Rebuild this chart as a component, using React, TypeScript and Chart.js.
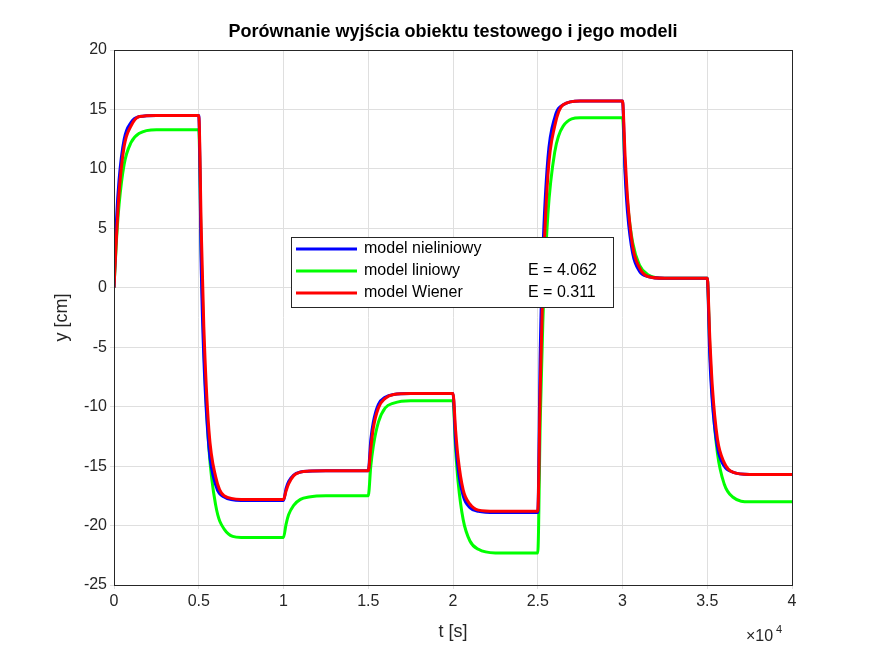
import { useRef, useEffect } from 'react';
import { Chart, registerables } from 'chart.js';

Chart.register(...registerables);

// sample times (s): each 5000 s step, samples after the step
const times = [
  0, 150, 300, 600, 1000, 1500, 2500, 4990,
  5000, 5150, 5300, 5600, 6000, 6500, 7500, 9990,
  10000, 10150, 10300, 10600, 11000, 11500, 12500, 14990,
  15000, 15150, 15300, 15600, 16000, 16500, 17500, 19990,
  20000, 20150, 20300, 20600, 21000, 21500, 22500, 24990,
  25000, 25150, 25300, 25600, 26000, 26500, 27500, 29990,
  30000, 30150, 30300, 30600, 31000, 31500, 32500, 34990,
  35000, 35150, 35300, 35600, 36000, 36500, 37500, 40000,
];

const nonlinear = [
  0, 5.8, 9.1, 12.5, 13.9, 14.4, 14.5, 14.5,
  14.5, 1.5, -5.9, -13.4, -16.6, -17.6, -17.9, -17.9,
  -17.9, -16.9, -16.3, -15.75, -15.5, -15.43, -15.4, -15.4,
  -15.4, -12.8, -11.3, -9.8, -9.2, -8.97, -8.9, -8.9,
  -8.9, -12.9, -15.2, -17.5, -18.5, -18.8, -18.9, -18.9,
  -18.9, -5.1, 2.9, 10.9, 14.3, 15.4, 15.7, 15.7,
  15.7, 9.7, 6.3, 2.9, 1.4, 0.95, 0.8, 0.8,
  0.8, -5.8, -9.6, -13.4, -15.0, -15.5, -15.7, -15.7,
];

const linear = [
  0, 4.1, 7.0, 10.4, 12.2, 13.0, 13.3, 13.3,
  13.3, 2.7, -4.9, -13.5, -18.3, -20.3, -21, -21,
  -21, -19.9, -19.1, -18.3, -17.8, -17.6, -17.5, -17.5,
  -17.5, -15.0, -13.3, -11.3, -10.1, -9.7, -9.5, -9.5,
  -9.5, -13.5, -16.3, -19.5, -21.3, -22.0, -22.3, -22.3,
  -22.3, -11.0, -2.9, 6.2, 11.4, 13.6, 14.3, 14.3,
  14.3, 10.1, 7.1, 3.8, 1.9, 1.1, 0.8, 0.8,
  0.8, -5.0, -9.2, -13.9, -16.5, -17.6, -18, -18,
];

const wiener = [
  0, 4.4, 8.0, 11.9, 13.6, 14.4, 14.5, 14.5,
  14.5, 4.8, -3.3, -12.0, -15.9, -17.5, -17.8, -17.8,
  -17.8, -17.1, -16.5, -15.8, -15.5, -15.42, -15.4, -15.4,
  -15.4, -13.5, -11.8, -10.1, -9.3, -8.97, -8.9, -8.9,
  -8.9, -11.9, -14.3, -17.0, -18.2, -18.7, -18.8, -18.8,
  -18.8, -8.4, 0.2, 9.5, 13.6, 15.4, 15.7, 15.7,
  15.7, 11.2, 7.5, 3.5, 1.7, 0.95, 0.8, 0.8,
  0.8, -4.2, -8.3, -12.7, -14.7, -15.5, -15.7, -15.7,
];

const legendItems = [
  { label: 'model nieliniowy', err: '', color: '#0000ff' },
  { label: 'model liniowy', err: 'E = 4.062', color: '#00ff00' },
  { label: 'model Wiener', err: 'E = 0.311', color: '#ff0000' },
];

const FONT = '"Liberation Sans", Arial, sans-serif';

const toPts = (ys: number[]) => ys.map((y, i) => ({ x: times[i], y }));

const decor = {
  id: 'decor',
  afterDraw(chart: Chart) {
    const { ctx, chartArea: a } = chart;
    ctx.save();
    ctx.strokeStyle = '#262626';
    ctx.lineWidth = 1;
    ctx.strokeRect(a.left + 0.5, a.top + 0.5, a.right - a.left, a.bottom - a.top);

    ctx.fillStyle = '#000';
    ctx.textAlign = 'center';
    ctx.textBaseline = 'middle';
    ctx.font = `bold 18px ${FONT}`;
    ctx.fillText('Porównanie wyjścia obiektu testowego i jego modeli', (a.left + a.right) / 2, 32);

    ctx.fillStyle = '#262626';
    ctx.font = `18px ${FONT}`;
    ctx.fillText('t [s]', (a.left + a.right) / 2, 632);
    ctx.save();
    ctx.translate(62, (a.top + a.bottom) / 2);
    ctx.rotate(-Math.PI / 2);
    ctx.fillText('y [cm]', 0, 0);
    ctx.restore();

    ctx.textAlign = 'left';
    ctx.font = `16px ${FONT}`;
    ctx.fillText('×10', 746, 637);
    ctx.font = `11px ${FONT}`;
    ctx.fillText('4', 776, 630);

    // legend
    const lx = 291, ly = 237, lw = 322, lh = 70;
    ctx.fillStyle = '#fff';
    ctx.fillRect(lx, ly, lw, lh);
    ctx.strokeStyle = '#262626';
    ctx.lineWidth = 1;
    ctx.strokeRect(lx + 0.5, ly + 0.5, lw, lh);
    ctx.font = `16px ${FONT}`;
    legendItems.forEach((it, i) => {
      const y = ly + 12 + i * 22;
      ctx.strokeStyle = it.color;
      ctx.lineWidth = 3;
      ctx.beginPath();
      ctx.moveTo(lx + 5, y);
      ctx.lineTo(lx + 66, y);
      ctx.stroke();
      ctx.fillStyle = '#000';
      ctx.fillText(it.label, lx + 73, y);
      if (it.err) ctx.fillText(it.err, lx + 237, y);
    });
    ctx.restore();
  },
};

export default function App() {
  const canvasRef = useRef<HTMLCanvasElement>(null);

  useEffect(() => {
    if (!canvasRef.current) return;
    const line = (data: number[], color: string) => ({
      data: toPts(data),
      borderColor: color,
      borderWidth: 3,
      pointRadius: 0,
      cubicInterpolationMode: 'monotone' as const,
      fill: false,
    });
    // first dataset is drawn on top
    const chart = new Chart(canvasRef.current, {
      type: 'line',
      data: {
        datasets: [
          line(wiener, '#ff0000'),
          line(nonlinear, '#0000ff'),
          line(linear, '#00ff00'),
        ],
      },
      options: {
        responsive: false,
        animation: false,
        layout: { padding: { top: 50, right: 84, left: 0, bottom: 0 } },
        plugins: { legend: { display: false }, tooltip: { enabled: false } },
        scales: {
          x: {
            type: 'linear',
            min: 0,
            max: 40000,
            afterFit: (s: any) => { s.height = 72; },
            ticks: {
              stepSize: 5000,
              color: '#262626',
              font: { family: FONT, size: 16 },
              maxRotation: 0,
              callback: (v: any) => String(Number(v) / 10000),
            },
            grid: { color: '#dfdfdf', tickLength: 4 },
            border: { display: false },
          },
          y: {
            min: -25,
            max: 20,
            afterFit: (s: any) => { s.width = 114; },
            ticks: {
              stepSize: 5,
              color: '#262626',
              font: { family: FONT, size: 16 },
            },
            grid: { color: '#dfdfdf', tickLength: 4 },
            border: { display: false },
          },
        },
      },
      plugins: [decor],
    });
    return () => chart.destroy();
  }, []);

  return (
    <div style={{ width: 876, height: 657, margin: -8, background: '#fff' }}>
      <canvas ref={canvasRef} width={876} height={657} />
    </div>
  );
}
